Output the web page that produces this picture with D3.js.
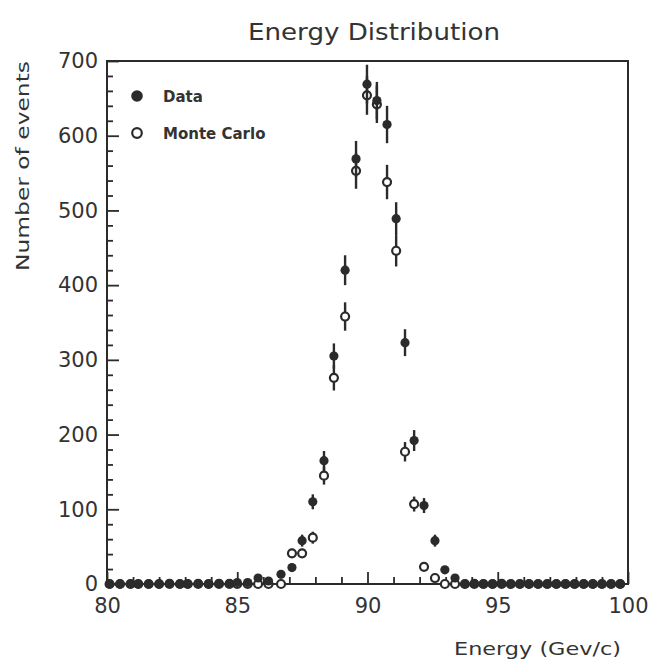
<!DOCTYPE html>
<html>
<head>
<meta charset="utf-8">
<script src="https://cdn.jsdelivr.net/npm/d3@7"></script>
<style>
  html, body { margin: 0; padding: 0; background: #fff; }
  svg { display: block; }
  text { font-family: "DejaVu Sans", sans-serif; fill: #333; }
</style>
</head>
<body>
<svg id="chart" width="652" height="662"></svg>
<script>
// ---- data ----
const energies = [
  80.1, 80.5, 80.9, 81.2, 81.6, 82.0, 82.4, 82.8, 83.1, 83.5, 83.9, 84.3, 84.7, 85.0, 85.4, 85.8, 86.2,
  86.68, 87.10, 87.49, 87.90, 88.33, 88.71, 89.14, 89.56, 89.98, 90.36, 90.75, 91.10, 91.44, 91.79, 92.17, 92.59, 92.97, 93.36, 93.74,
  94.1, 94.45, 94.8, 95.15, 95.5, 95.85, 96.2, 96.55, 96.9, 97.25, 97.6, 97.95, 98.3, 98.65, 99.0, 99.35, 99.7
];
const dataCounts = [
  0, 0, 0, 0, 0, 0, 1, 0, 0, 1, 0, 1, 1, 2, 2, 8, 4,
  13, 22, 58, 110, 165, 305, 420, 569, 669, 647, 615, 489, 323, 192, 105, 58, 19, 8, 0,
  1, 0, 0, 1, 0, 0, 0, 0, 0, 0, 0, 0, 0, 0, 0, 0, 0
];
const dataErrors = [
  0, 0, 0, 0, 0, 0, 1, 0, 0, 1, 0, 1, 1, 1, 1, 3, 2,
  4, 5, 8, 10, 13, 17, 20, 24, 26, 25, 25, 22, 18, 14, 10, 8, 4, 3, 0,
  1, 0, 0, 1, 0, 0, 0, 0, 0, 0, 0, 0, 0, 0, 0, 0, 0
];
const mcCounts = [
  0, 0, 0, 0, 0, 0, 0, 0, 0, 0, 0, 0, 0, 0, 0, 0, 0,
  0, 41, 41, 62, 145, 276, 358, 553, 654, 642, 538, 446, 177, 107, 23, 8, 0, 0, 0,
  0, 0, 0, 0, 0, 0, 0, 0, 0, 0, 0, 0, 0, 0, 0, 0, 0
];
const mcErrors = [
  0, 0, 0, 0, 0, 0, 0, 0, 0, 0, 0, 0, 0, 0, 0, 0, 0,
  0, 6, 6, 8, 12, 17, 19, 24, 26, 25, 23, 21, 13, 10, 5, 3, 0, 0, 0,
  0, 0, 0, 0, 0, 0, 0, 0, 0, 0, 0, 0, 0, 0, 0, 0, 0
];
const xMajorTicks = [80, 85, 90, 95, 100];
const xMinorTicks = [81, 82, 83, 84, 86, 87, 88, 89, 91, 92, 93, 94, 96, 97, 98, 99];
const yMajorTicks = [0, 100, 200, 300, 400, 500, 600, 700];
const yMinorTicks = [20, 40, 60, 80, 120, 140, 160, 180, 220, 240, 260, 280, 320, 340, 360, 380,
                     420, 440, 460, 480, 520, 540, 560, 580, 620, 640, 660, 680];
const seriesNames = ["Data", "Monte Carlo"];
const titleText = "Energy Distribution";
const xLabel = "Energy (Gev/c)";
const yLabel = "Number of events";

// ---- layout ----
const svg = d3.select("#chart");
const plotLeft = 107, plotRight = 628, plotTop = 61, plotBottom = 584;
const ink = "#2b2b2b";

const x = d3.scaleLinear().domain([80, 100]).range([plotLeft, plotRight]);
const y = d3.scaleLinear().domain([0, 700]).range([plotBottom, plotTop]);

// frame
svg.append("rect")
  .attr("x", plotLeft).attr("y", plotTop)
  .attr("width", plotRight - plotLeft).attr("height", plotBottom - plotTop)
  .attr("fill", "none").attr("stroke", ink).attr("stroke-width", 2);

// x axis (ticks pointing inward)
const gx = svg.append("g").attr("transform", `translate(0,${plotBottom})`);
gx.call(d3.axisBottom(x).tickValues(xMajorTicks).tickSize(-12).tickPadding(14).tickFormat(d3.format("d")));
const gxm = svg.append("g").attr("transform", `translate(0,${plotBottom})`);
gxm.call(d3.axisBottom(x).tickValues(xMinorTicks).tickSize(-7).tickFormat(""));

// y axis
const gy = svg.append("g").attr("transform", `translate(${plotLeft},0)`);
gy.call(d3.axisLeft(y).tickValues(yMajorTicks).tickSize(-12).tickPadding(9).tickFormat(d3.format("d")));
const gym = svg.append("g").attr("transform", `translate(${plotLeft},0)`);
gym.call(d3.axisLeft(y).tickValues(yMinorTicks).tickSize(-6).tickFormat(""));

[gx, gxm, gy, gym].forEach(g => {
  g.select(".domain").remove();
  g.selectAll(".tick line").attr("stroke", ink).attr("stroke-width", 1.8);
  g.selectAll(".tick text")
    .attr("fill", "#333")
    .style("font-family", "'DejaVu Sans', sans-serif")
    .style("font-size", "21px");
});

// titles
svg.append("text")
  .attr("x", 374).attr("y", 40)
  .attr("text-anchor", "middle")
  .attr("textLength", 252).attr("lengthAdjust", "spacingAndGlyphs")
  .style("font-size", "23px")
  .text(titleText);

svg.append("text")
  .attr("x", 621).attr("y", 655)
  .attr("text-anchor", "end")
  .attr("textLength", 167).attr("lengthAdjust", "spacingAndGlyphs")
  .style("font-size", "18px")
  .text(xLabel);

svg.append("text")
  .attr("transform", "translate(29,166) rotate(-90)")
  .attr("text-anchor", "middle")
  .attr("textLength", 210).attr("lengthAdjust", "spacingAndGlyphs")
  .style("font-size", "18px")
  .text(yLabel);

// points
const pts = energies.map((e, i) => ({
  e, d: dataCounts[i], de: dataErrors[i], m: mcCounts[i], me: mcErrors[i]
}));

const gMC = svg.append("g");
gMC.selectAll("line").data(pts.filter(p => p.me > 0)).join("line")
  .attr("x1", p => x(p.e)).attr("x2", p => x(p.e))
  .attr("y1", p => y(p.m - p.me)).attr("y2", p => y(p.m + p.me))
  .attr("stroke", ink).attr("stroke-width", 2.4);
gMC.selectAll("circle").data(pts).join("circle")
  .attr("cx", p => x(p.e)).attr("cy", p => y(p.m))
  .attr("r", 4)
  .attr("fill", "#fff").attr("stroke", ink).attr("stroke-width", 2.2);

const gD = svg.append("g");
gD.selectAll("line").data(pts.filter(p => p.de > 0)).join("line")
  .attr("x1", p => x(p.e)).attr("x2", p => x(p.e))
  .attr("y1", p => y(p.d - p.de)).attr("y2", p => y(p.d + p.de))
  .attr("stroke", ink).attr("stroke-width", 2.4);
gD.selectAll("circle").data(pts).join("circle")
  .attr("cx", p => x(p.e)).attr("cy", p => y(p.d))
  .attr("r", 4.6)
  .attr("fill", ink);

// legend
const legend = svg.append("g");
const legendRows = [{ name: seriesNames[0], filled: true, yy: 96 }, { name: seriesNames[1], filled: false, yy: 133 }];
legendRows.forEach(r => {
  legend.append("circle")
    .attr("cx", 137).attr("cy", r.yy).attr("r", r.filled ? 5.8 : 4.8)
    .attr("fill", r.filled ? ink : "#fff")
    .attr("stroke", ink).attr("stroke-width", r.filled ? 0 : 2.2);
  legend.append("text")
    .attr("x", 163).attr("y", r.yy + 5.5)
    .style("font-size", "15px").style("font-weight", "bold")
    .text(r.name);
});
</script>
</body>
</html>
